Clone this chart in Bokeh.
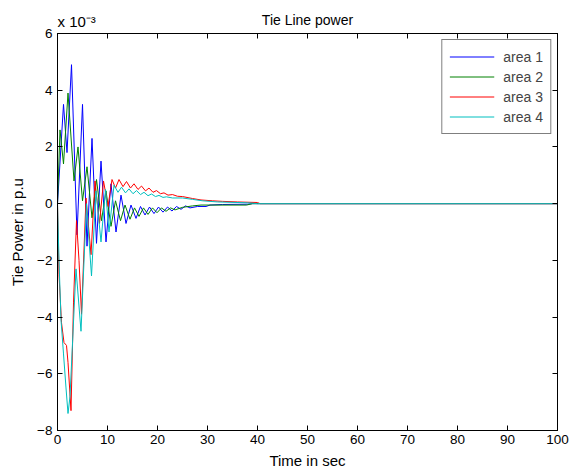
from bokeh.plotting import figure
from bokeh.models import LinearAxis, FixedTicker, Legend, LegendItem, Title, Range1d
from bokeh.embed import file_html
from bokeh.resources import INLINE

# ---- data (values in units of 1e-3 p.u.) ----
t_area1 = [0, 1.2, 1.9, 2.8, 3.9, 5.0, 5.9, 6.9, 7.8, 8.7, 9.7, 10.7, 11.7, 12.7, 13.7,
           14.7, 15.7, 16.6, 17.5, 18.4, 19.3, 20.2, 21.1, 22.0, 22.9, 23.8, 24.7, 25.6,
           26.5, 28, 29.7, 30.5, 33, 38, 39, 100]
p_area1 = [0, 3.5, 1.8, 4.9, -1.1, 3.5, -1.5, 2.3, -1.4, 1.5, -1.35, 0.7, -1.0, 0.3, -0.7,
           -0.05, -0.52, -0.1, -0.4, -0.12, -0.35, -0.12, -0.3, -0.12, -0.26, -0.1, -0.2, -0.08,
           -0.15, -0.1, -0.1, -0.05, -0.03, -0.02, 0, 0]

t_area2 = [0, 0.5, 1.2, 2.1, 3.3, 4.1, 5.0, 5.9, 6.9, 7.8, 8.8, 9.7, 10.7, 11.6, 12.6,
           13.5, 14.5, 15.4, 16.3, 17.2, 18.1, 19.0, 19.9, 20.8, 21.7, 22.6, 23.5, 25,
           27, 28.7, 37.8, 39, 100]
p_area2 = [0, 2.6, 1.4, 3.9, 0.8, 2.0, 0.1, 1.3, -0.5, 0.85, -0.6, 0.45, -0.8, 0.1, -0.6,
           -0.05, -0.55, -0.15, -0.45, -0.15, -0.38, -0.15, -0.32, -0.15, -0.27, -0.15, -0.22, -0.13,
           -0.08, -0.05, -0.05, 0, 0]

t_area3 = [0, 0.3, 0.8, 1.3, 1.8, 2.1, 2.7, 3.2, 3.8, 4.3, 4.8, 5.7, 6.7, 7.5, 8.4, 9.2,
           10.1, 10.9, 11.6, 12.3, 13.1, 13.8, 14.6, 15.3, 16.1, 16.8, 17.6, 18.3, 19.1,
           19.8, 20.6, 21.3, 22.1, 23, 24, 25, 27, 28.7, 31, 33, 36, 40, 40.5, 100]
p_area3 = [0, -2.5, -4.2, -4.9, -5.0, -5.6, -7.3, -3.5, -0.6, -2.0, -3.9, 0.2, -1.8, 0.8, -0.7, 0.8,
           -0.1, 0.85, 0.55, 0.85, 0.6, 0.78, 0.55, 0.7, 0.5, 0.62, 0.45, 0.55, 0.4,
           0.46, 0.35, 0.38, 0.3, 0.32, 0.26, 0.25, 0.18, 0.13, 0.1, 0.08, 0.06, 0.04, 0, 0]

t_area4 = [0, 0.3, 0.7, 1.2, 1.7, 2.1, 2.5, 3.7, 4.7, 5.8, 6.8, 7.7, 8.7, 9.6, 10.3, 11.3,
           12.1, 12.8, 13.6, 14.3, 15.1, 15.8, 16.6, 17.3, 18.1, 18.8, 19.6, 20.3, 21.1,
           21.8, 23, 25, 27, 29, 32, 38, 40, 100]
p_area4 = [0, -2.0, -4.1, -5.3, -6.5, -7.4, -6.8, -2.3, -4.5, 0.0, -2.55, 0.45, -1.35, 0.5, -1.0, 0.65,
           0.4, 0.58, 0.38, 0.52, 0.35, 0.46, 0.32, 0.4, 0.28, 0.34, 0.25, 0.29, 0.22,
           0.24, 0.2, 0.2, 0.15, 0.1, 0.06, 0.03, 0, 0]

series_names = ["area 1", "area 2", "area 3", "area 4"]
series_colors = ["#0000ff", "#008000", "#ff0000", "#00bfbf"]

x_ticks = [0, 10, 20, 30, 40, 50, 60, 70, 80, 90, 100]
y_ticks = [-8, -6, -4, -2, 0, 2, 4, 6]

FONT = "Liberation Sans"

p = figure(width=582, height=473, output_backend="svg", toolbar_location=None,
           x_range=Range1d(0, 100), y_range=Range1d(-8, 6),
           min_border_left=57, min_border_right=25, min_border_top=33, min_border_bottom=43,
           background_fill_color="white", border_fill_color="white",
           title="Tie Line power")
p.xgrid.visible = False
p.ygrid.visible = False
p.outline_line_color = "black"
p.outline_line_width = 1

p.title.align = "center"
p.title.text_font = FONT
p.title.text_font_size = "14px"
p.title.text_font_style = "normal"
p.title.text_color = "black"
p.title.standoff = -40

data = [(t_area1, p_area1), (t_area2, p_area2), (t_area3, p_area3), (t_area4, p_area4)]
renderers = []
for (t, v), c in zip(data, series_colors):
    r = p.line(t, v, line_color=c, line_width=1, line_alpha=1.0)
    renderers.append(r)

def style_axis(ax, ticks, show_labels):
    ax.ticker = FixedTicker(ticks=ticks)
    ax.major_tick_in = 5
    ax.major_tick_out = 0
    ax.minor_tick_line_color = None
    ax.axis_line_color = "black"
    ax.major_tick_line_color = "black"
    ax.major_label_text_font = FONT
    ax.major_label_text_color = "black"
    ax.axis_label_text_font = FONT
    ax.axis_label_text_font_style = "normal"
    ax.axis_label_text_color = "black"
    if not show_labels:
        ax.major_label_overrides = {t: "" for t in ticks}
        ax.major_label_text_font_size = "1px"
        ax.major_label_standoff = 0

xa = p.xaxis[0]
style_axis(xa, x_ticks, True)
xa.major_label_text_font_size = "13.5px"
xa.major_label_standoff = 4
xa.axis_label = "Time in sec"
xa.axis_label_text_font_size = "15px"
xa.axis_label_standoff = 5

ya = p.yaxis[0]
style_axis(ya, y_ticks, True)
ya.major_label_text_font_size = "13.5px"
ya.major_label_standoff = 5
ya.axis_label = "Tie Power in p.u"
ya.axis_label_text_font_size = "15px"
ya.axis_label_standoff = 8

top = LinearAxis()
style_axis(top, x_ticks, False)
p.add_layout(top, "above")
right = LinearAxis()
style_axis(right, y_ticks, False)
p.add_layout(right, "right")

# exponent marker above the y axis (sits between the top axis and the title)
exp_title = Title(text="x 10\u207b\u00b3", align="left", text_font=FONT,
                  text_font_size="15px", text_font_style="normal", text_color="black",
                  standoff=7, offset=0)
p.add_layout(exp_title, "above")

legend = Legend(items=[LegendItem(label=n, renderers=[r]) for n, r in zip(series_names, renderers)],
                location="top_right")
legend.border_line_color = "black"
legend.border_line_width = 1
legend.background_fill_color = "white"
legend.background_fill_alpha = 1
legend.label_text_font = FONT
legend.label_text_font_size = "14px"
legend.glyph_width = 45
legend.glyph_height = 19
legend.label_height = 19
legend.spacing = 1
legend.padding = 7
legend.label_standoff = 9
legend.margin = 6
p.add_layout(legend)

open("out.html", "w").write(file_html(p, INLINE))
